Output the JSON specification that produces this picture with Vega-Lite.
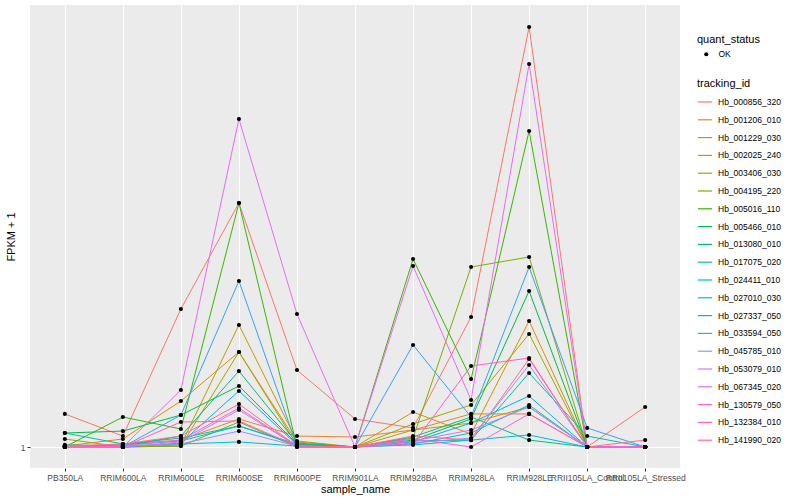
{
"$schema":"https://vega.github.io/schema/vega-lite/v6.json",
"width":650,"height":463,
"autosize":{"type":"none"},
"padding":{"left":30,"top":5,"right":120,"bottom":32},
"background":"white",
"config":{
 "view":{"fill":"#EBEBEB","stroke":null},
 "font":"Liberation Sans",
 "axis":{"gridColor":"white","gridWidth":1.1,"domain":false,"tickColor":"#333333","tickSize":3,"labelColor":"#4D4D4D","labelFontSize":8.5,"titleFontSize":11,"titleColor":"black","titleFontWeight":"normal","labelPadding":2},
 "legend":{"titleFontSize":11,"titleFontWeight":"normal","titleColor":"black","labelFontSize":8.5,"labelColor":"black"}
},
"datasets":{"d":[
{"tracking_id":"Hb_000856_320","sample_name":"PB350LA","fpkm":1.189,"quant_status":"OK"},
{"tracking_id":"Hb_000856_320","sample_name":"RRIM600LA","fpkm":1.059,"quant_status":"OK"},
{"tracking_id":"Hb_000856_320","sample_name":"RRIM600LE","fpkm":2.059,"quant_status":"OK"},
{"tracking_id":"Hb_000856_320","sample_name":"RRIM600SE","fpkm":3.585,"quant_status":"OK"},
{"tracking_id":"Hb_000856_320","sample_name":"RRIM600PE","fpkm":1.496,"quant_status":"OK"},
{"tracking_id":"Hb_000856_320","sample_name":"RRIM901LA","fpkm":1.158,"quant_status":"OK"},
{"tracking_id":"Hb_000856_320","sample_name":"RRIM928BA","fpkm":1.105,"quant_status":"OK"},
{"tracking_id":"Hb_000856_320","sample_name":"RRIM928LA","fpkm":1.975,"quant_status":"OK"},
{"tracking_id":"Hb_000856_320","sample_name":"RRIM928LE","fpkm":9.004,"quant_status":"OK"},
{"tracking_id":"Hb_000856_320","sample_name":"RRII105LA_Control","fpkm":1.0,"quant_status":"OK"},
{"tracking_id":"Hb_000856_320","sample_name":"RRII105LA_Stressed","fpkm":1.233,"quant_status":"OK"},
{"tracking_id":"Hb_001206_010","sample_name":"PB350LA","fpkm":1.0,"quant_status":"OK"},
{"tracking_id":"Hb_001206_010","sample_name":"RRIM600LA","fpkm":1.016,"quant_status":"OK"},
{"tracking_id":"Hb_001206_010","sample_name":"RRIM600LE","fpkm":1.037,"quant_status":"OK"},
{"tracking_id":"Hb_001206_010","sample_name":"RRIM600SE","fpkm":1.158,"quant_status":"OK"},
{"tracking_id":"Hb_001206_010","sample_name":"RRIM600PE","fpkm":1.059,"quant_status":"OK"},
{"tracking_id":"Hb_001206_010","sample_name":"RRIM901LA","fpkm":1.054,"quant_status":"OK"},
{"tracking_id":"Hb_001206_010","sample_name":"RRIM928BA","fpkm":1.093,"quant_status":"OK"},
{"tracking_id":"Hb_001206_010","sample_name":"RRIM928LA","fpkm":1.189,"quant_status":"OK"},
{"tracking_id":"Hb_001206_010","sample_name":"RRIM928LE","fpkm":1.189,"quant_status":"OK"},
{"tracking_id":"Hb_001206_010","sample_name":"RRII105LA_Control","fpkm":1.0,"quant_status":"OK"},
{"tracking_id":"Hb_001206_010","sample_name":"RRII105LA_Stressed","fpkm":1.0,"quant_status":"OK"},
{"tracking_id":"Hb_001229_030","sample_name":"PB350LA","fpkm":1.005,"quant_status":"OK"},
{"tracking_id":"Hb_001229_030","sample_name":"RRIM600LA","fpkm":1.043,"quant_status":"OK"},
{"tracking_id":"Hb_001229_030","sample_name":"RRIM600LE","fpkm":1.272,"quant_status":"OK"},
{"tracking_id":"Hb_001229_030","sample_name":"RRIM600SE","fpkm":1.644,"quant_status":"OK"},
{"tracking_id":"Hb_001229_030","sample_name":"RRIM600PE","fpkm":1.027,"quant_status":"OK"},
{"tracking_id":"Hb_001229_030","sample_name":"RRIM901LA","fpkm":1.0,"quant_status":"OK"},
{"tracking_id":"Hb_001229_030","sample_name":"RRIM928BA","fpkm":1.201,"quant_status":"OK"},
{"tracking_id":"Hb_001229_030","sample_name":"RRIM928LA","fpkm":1.070,"quant_status":"OK"},
{"tracking_id":"Hb_001229_030","sample_name":"RRIM928LE","fpkm":1.934,"quant_status":"OK"},
{"tracking_id":"Hb_001229_030","sample_name":"RRII105LA_Control","fpkm":1.0,"quant_status":"OK"},
{"tracking_id":"Hb_001229_030","sample_name":"RRII105LA_Stressed","fpkm":1.0,"quant_status":"OK"},
{"tracking_id":"Hb_002025_240","sample_name":"PB350LA","fpkm":1.0,"quant_status":"OK"},
{"tracking_id":"Hb_002025_240","sample_name":"RRIM600LA","fpkm":1.0,"quant_status":"OK"},
{"tracking_id":"Hb_002025_240","sample_name":"RRIM600LE","fpkm":1.011,"quant_status":"OK"},
{"tracking_id":"Hb_002025_240","sample_name":"RRIM600SE","fpkm":1.894,"quant_status":"OK"},
{"tracking_id":"Hb_002025_240","sample_name":"RRIM600PE","fpkm":1.032,"quant_status":"OK"},
{"tracking_id":"Hb_002025_240","sample_name":"RRIM901LA","fpkm":1.0,"quant_status":"OK"},
{"tracking_id":"Hb_002025_240","sample_name":"RRIM928BA","fpkm":1.093,"quant_status":"OK"},
{"tracking_id":"Hb_002025_240","sample_name":"RRIM928LA","fpkm":1.134,"quant_status":"OK"},
{"tracking_id":"Hb_002025_240","sample_name":"RRIM928LE","fpkm":1.233,"quant_status":"OK"},
{"tracking_id":"Hb_002025_240","sample_name":"RRII105LA_Control","fpkm":1.0,"quant_status":"OK"},
{"tracking_id":"Hb_002025_240","sample_name":"RRII105LA_Stressed","fpkm":1.0,"quant_status":"OK"},
{"tracking_id":"Hb_003406_030","sample_name":"PB350LA","fpkm":1.043,"quant_status":"OK"},
{"tracking_id":"Hb_003406_030","sample_name":"RRIM600LA","fpkm":1.0,"quant_status":"OK"},
{"tracking_id":"Hb_003406_030","sample_name":"RRIM600LE","fpkm":1.005,"quant_status":"OK"},
{"tracking_id":"Hb_003406_030","sample_name":"RRIM600SE","fpkm":1.644,"quant_status":"OK"},
{"tracking_id":"Hb_003406_030","sample_name":"RRIM600PE","fpkm":1.011,"quant_status":"OK"},
{"tracking_id":"Hb_003406_030","sample_name":"RRIM901LA","fpkm":1.0,"quant_status":"OK"},
{"tracking_id":"Hb_003406_030","sample_name":"RRIM928BA","fpkm":1.128,"quant_status":"OK"},
{"tracking_id":"Hb_003406_030","sample_name":"RRIM928LA","fpkm":1.246,"quant_status":"OK"},
{"tracking_id":"Hb_003406_030","sample_name":"RRIM928LE","fpkm":1.807,"quant_status":"OK"},
{"tracking_id":"Hb_003406_030","sample_name":"RRII105LA_Control","fpkm":1.0,"quant_status":"OK"},
{"tracking_id":"Hb_003406_030","sample_name":"RRII105LA_Stressed","fpkm":1.0,"quant_status":"OK"},
{"tracking_id":"Hb_004195_220","sample_name":"PB350LA","fpkm":1.0,"quant_status":"OK"},
{"tracking_id":"Hb_004195_220","sample_name":"RRIM600LA","fpkm":1.0,"quant_status":"OK"},
{"tracking_id":"Hb_004195_220","sample_name":"RRIM600LE","fpkm":1.005,"quant_status":"OK"},
{"tracking_id":"Hb_004195_220","sample_name":"RRIM600SE","fpkm":1.140,"quant_status":"OK"},
{"tracking_id":"Hb_004195_220","sample_name":"RRIM600PE","fpkm":1.0,"quant_status":"OK"},
{"tracking_id":"Hb_004195_220","sample_name":"RRIM901LA","fpkm":1.0,"quant_status":"OK"},
{"tracking_id":"Hb_004195_220","sample_name":"RRIM928BA","fpkm":1.048,"quant_status":"OK"},
{"tracking_id":"Hb_004195_220","sample_name":"RRIM928LA","fpkm":2.565,"quant_status":"OK"},
{"tracking_id":"Hb_004195_220","sample_name":"RRIM928LE","fpkm":2.703,"quant_status":"OK"},
{"tracking_id":"Hb_004195_220","sample_name":"RRII105LA_Control","fpkm":1.0,"quant_status":"OK"},
{"tracking_id":"Hb_004195_220","sample_name":"RRII105LA_Stressed","fpkm":1.0,"quant_status":"OK"},
{"tracking_id":"Hb_005016_110","sample_name":"PB350LA","fpkm":1.0,"quant_status":"OK"},
{"tracking_id":"Hb_005016_110","sample_name":"RRIM600LA","fpkm":1.170,"quant_status":"OK"},
{"tracking_id":"Hb_005016_110","sample_name":"RRIM600LE","fpkm":1.099,"quant_status":"OK"},
{"tracking_id":"Hb_005016_110","sample_name":"RRIM600SE","fpkm":3.585,"quant_status":"OK"},
{"tracking_id":"Hb_005016_110","sample_name":"RRIM600PE","fpkm":1.0,"quant_status":"OK"},
{"tracking_id":"Hb_005016_110","sample_name":"RRIM901LA","fpkm":1.0,"quant_status":"OK"},
{"tracking_id":"Hb_005016_110","sample_name":"RRIM928BA","fpkm":2.675,"quant_status":"OK"},
{"tracking_id":"Hb_005016_110","sample_name":"RRIM928LA","fpkm":1.427,"quant_status":"OK"},
{"tracking_id":"Hb_005016_110","sample_name":"RRIM928LE","fpkm":5.227,"quant_status":"OK"},
{"tracking_id":"Hb_005016_110","sample_name":"RRII105LA_Control","fpkm":1.0,"quant_status":"OK"},
{"tracking_id":"Hb_005016_110","sample_name":"RRII105LA_Stressed","fpkm":1.0,"quant_status":"OK"},
{"tracking_id":"Hb_005466_010","sample_name":"PB350LA","fpkm":1.076,"quant_status":"OK"},
{"tracking_id":"Hb_005466_010","sample_name":"RRIM600LA","fpkm":1.087,"quant_status":"OK"},
{"tracking_id":"Hb_005466_010","sample_name":"RRIM600LE","fpkm":1.182,"quant_status":"OK"},
{"tracking_id":"Hb_005466_010","sample_name":"RRIM600SE","fpkm":1.376,"quant_status":"OK"},
{"tracking_id":"Hb_005466_010","sample_name":"RRIM600PE","fpkm":1.016,"quant_status":"OK"},
{"tracking_id":"Hb_005466_010","sample_name":"RRIM901LA","fpkm":1.0,"quant_status":"OK"},
{"tracking_id":"Hb_005466_010","sample_name":"RRIM928BA","fpkm":1.037,"quant_status":"OK"},
{"tracking_id":"Hb_005466_010","sample_name":"RRIM928LA","fpkm":1.158,"quant_status":"OK"},
{"tracking_id":"Hb_005466_010","sample_name":"RRIM928LE","fpkm":2.262,"quant_status":"OK"},
{"tracking_id":"Hb_005466_010","sample_name":"RRII105LA_Control","fpkm":1.0,"quant_status":"OK"},
{"tracking_id":"Hb_005466_010","sample_name":"RRII105LA_Stressed","fpkm":1.0,"quant_status":"OK"},
{"tracking_id":"Hb_013080_010","sample_name":"PB350LA","fpkm":1.011,"quant_status":"OK"},
{"tracking_id":"Hb_013080_010","sample_name":"RRIM600LA","fpkm":1.005,"quant_status":"OK"},
{"tracking_id":"Hb_013080_010","sample_name":"RRIM600LE","fpkm":1.059,"quant_status":"OK"},
{"tracking_id":"Hb_013080_010","sample_name":"RRIM600SE","fpkm":1.488,"quant_status":"OK"},
{"tracking_id":"Hb_013080_010","sample_name":"RRIM600PE","fpkm":1.021,"quant_status":"OK"},
{"tracking_id":"Hb_013080_010","sample_name":"RRIM901LA","fpkm":1.0,"quant_status":"OK"},
{"tracking_id":"Hb_013080_010","sample_name":"RRIM928BA","fpkm":1.054,"quant_status":"OK"},
{"tracking_id":"Hb_013080_010","sample_name":"RRIM928LA","fpkm":1.170,"quant_status":"OK"},
{"tracking_id":"Hb_013080_010","sample_name":"RRIM928LE","fpkm":1.037,"quant_status":"OK"},
{"tracking_id":"Hb_013080_010","sample_name":"RRII105LA_Control","fpkm":1.0,"quant_status":"OK"},
{"tracking_id":"Hb_013080_010","sample_name":"RRII105LA_Stressed","fpkm":1.0,"quant_status":"OK"},
{"tracking_id":"Hb_017075_020","sample_name":"PB350LA","fpkm":1.076,"quant_status":"OK"},
{"tracking_id":"Hb_017075_020","sample_name":"RRIM600LA","fpkm":1.016,"quant_status":"OK"},
{"tracking_id":"Hb_017075_020","sample_name":"RRIM600LE","fpkm":1.048,"quant_status":"OK"},
{"tracking_id":"Hb_017075_020","sample_name":"RRIM600SE","fpkm":1.116,"quant_status":"OK"},
{"tracking_id":"Hb_017075_020","sample_name":"RRIM600PE","fpkm":1.016,"quant_status":"OK"},
{"tracking_id":"Hb_017075_020","sample_name":"RRIM901LA","fpkm":1.0,"quant_status":"OK"},
{"tracking_id":"Hb_017075_020","sample_name":"RRIM928BA","fpkm":1.032,"quant_status":"OK"},
{"tracking_id":"Hb_017075_020","sample_name":"RRIM928LA","fpkm":1.037,"quant_status":"OK"},
{"tracking_id":"Hb_017075_020","sample_name":"RRIM928LE","fpkm":1.473,"quant_status":"OK"},
{"tracking_id":"Hb_017075_020","sample_name":"RRII105LA_Control","fpkm":1.059,"quant_status":"OK"},
{"tracking_id":"Hb_017075_020","sample_name":"RRII105LA_Stressed","fpkm":1.0,"quant_status":"OK"},
{"tracking_id":"Hb_024411_010","sample_name":"PB350LA","fpkm":1.005,"quant_status":"OK"},
{"tracking_id":"Hb_024411_010","sample_name":"RRIM600LA","fpkm":1.011,"quant_status":"OK"},
{"tracking_id":"Hb_024411_010","sample_name":"RRIM600LE","fpkm":1.032,"quant_status":"OK"},
{"tracking_id":"Hb_024411_010","sample_name":"RRIM600SE","fpkm":1.116,"quant_status":"OK"},
{"tracking_id":"Hb_024411_010","sample_name":"RRIM600PE","fpkm":1.011,"quant_status":"OK"},
{"tracking_id":"Hb_024411_010","sample_name":"RRIM901LA","fpkm":1.0,"quant_status":"OK"},
{"tracking_id":"Hb_024411_010","sample_name":"RRIM928BA","fpkm":1.016,"quant_status":"OK"},
{"tracking_id":"Hb_024411_010","sample_name":"RRIM928LA","fpkm":1.076,"quant_status":"OK"},
{"tracking_id":"Hb_024411_010","sample_name":"RRIM928LE","fpkm":1.246,"quant_status":"OK"},
{"tracking_id":"Hb_024411_010","sample_name":"RRII105LA_Control","fpkm":1.0,"quant_status":"OK"},
{"tracking_id":"Hb_024411_010","sample_name":"RRII105LA_Stressed","fpkm":1.0,"quant_status":"OK"},
{"tracking_id":"Hb_027010_030","sample_name":"PB350LA","fpkm":1.0,"quant_status":"OK"},
{"tracking_id":"Hb_027010_030","sample_name":"RRIM600LA","fpkm":1.005,"quant_status":"OK"},
{"tracking_id":"Hb_027010_030","sample_name":"RRIM600LE","fpkm":1.016,"quant_status":"OK"},
{"tracking_id":"Hb_027010_030","sample_name":"RRIM600SE","fpkm":1.027,"quant_status":"OK"},
{"tracking_id":"Hb_027010_030","sample_name":"RRIM600PE","fpkm":1.005,"quant_status":"OK"},
{"tracking_id":"Hb_027010_030","sample_name":"RRIM901LA","fpkm":1.0,"quant_status":"OK"},
{"tracking_id":"Hb_027010_030","sample_name":"RRIM928BA","fpkm":1.011,"quant_status":"OK"},
{"tracking_id":"Hb_027010_030","sample_name":"RRIM928LA","fpkm":1.037,"quant_status":"OK"},
{"tracking_id":"Hb_027010_030","sample_name":"RRIM928LE","fpkm":1.065,"quant_status":"OK"},
{"tracking_id":"Hb_027010_030","sample_name":"RRII105LA_Control","fpkm":1.0,"quant_status":"OK"},
{"tracking_id":"Hb_027010_030","sample_name":"RRII105LA_Stressed","fpkm":1.0,"quant_status":"OK"},
{"tracking_id":"Hb_027337_050","sample_name":"PB350LA","fpkm":1.005,"quant_status":"OK"},
{"tracking_id":"Hb_027337_050","sample_name":"RRIM600LA","fpkm":1.0,"quant_status":"OK"},
{"tracking_id":"Hb_027337_050","sample_name":"RRIM600LE","fpkm":1.021,"quant_status":"OK"},
{"tracking_id":"Hb_027337_050","sample_name":"RRIM600SE","fpkm":1.341,"quant_status":"OK"},
{"tracking_id":"Hb_027337_050","sample_name":"RRIM600PE","fpkm":1.011,"quant_status":"OK"},
{"tracking_id":"Hb_027337_050","sample_name":"RRIM901LA","fpkm":1.0,"quant_status":"OK"},
{"tracking_id":"Hb_027337_050","sample_name":"RRIM928BA","fpkm":1.027,"quant_status":"OK"},
{"tracking_id":"Hb_027337_050","sample_name":"RRIM928LA","fpkm":1.134,"quant_status":"OK"},
{"tracking_id":"Hb_027337_050","sample_name":"RRIM928LE","fpkm":1.306,"quant_status":"OK"},
{"tracking_id":"Hb_027337_050","sample_name":"RRII105LA_Control","fpkm":1.0,"quant_status":"OK"},
{"tracking_id":"Hb_027337_050","sample_name":"RRII105LA_Stressed","fpkm":1.0,"quant_status":"OK"},
{"tracking_id":"Hb_033594_050","sample_name":"PB350LA","fpkm":1.005,"quant_status":"OK"},
{"tracking_id":"Hb_033594_050","sample_name":"RRIM600LA","fpkm":1.0,"quant_status":"OK"},
{"tracking_id":"Hb_033594_050","sample_name":"RRIM600LE","fpkm":1.182,"quant_status":"OK"},
{"tracking_id":"Hb_033594_050","sample_name":"RRIM600SE","fpkm":2.384,"quant_status":"OK"},
{"tracking_id":"Hb_033594_050","sample_name":"RRIM600PE","fpkm":1.005,"quant_status":"OK"},
{"tracking_id":"Hb_033594_050","sample_name":"RRIM901LA","fpkm":1.0,"quant_status":"OK"},
{"tracking_id":"Hb_033594_050","sample_name":"RRIM928BA","fpkm":1.706,"quant_status":"OK"},
{"tracking_id":"Hb_033594_050","sample_name":"RRIM928LA","fpkm":1.170,"quant_status":"OK"},
{"tracking_id":"Hb_033594_050","sample_name":"RRIM928LE","fpkm":2.565,"quant_status":"OK"},
{"tracking_id":"Hb_033594_050","sample_name":"RRII105LA_Control","fpkm":1.105,"quant_status":"OK"},
{"tracking_id":"Hb_033594_050","sample_name":"RRII105LA_Stressed","fpkm":1.0,"quant_status":"OK"},
{"tracking_id":"Hb_045785_010","sample_name":"PB350LA","fpkm":1.0,"quant_status":"OK"},
{"tracking_id":"Hb_045785_010","sample_name":"RRIM600LA","fpkm":1.005,"quant_status":"OK"},
{"tracking_id":"Hb_045785_010","sample_name":"RRIM600LE","fpkm":1.016,"quant_status":"OK"},
{"tracking_id":"Hb_045785_010","sample_name":"RRIM600SE","fpkm":1.087,"quant_status":"OK"},
{"tracking_id":"Hb_045785_010","sample_name":"RRIM600PE","fpkm":1.005,"quant_status":"OK"},
{"tracking_id":"Hb_045785_010","sample_name":"RRIM901LA","fpkm":1.0,"quant_status":"OK"},
{"tracking_id":"Hb_045785_010","sample_name":"RRIM928BA","fpkm":1.021,"quant_status":"OK"},
{"tracking_id":"Hb_045785_010","sample_name":"RRIM928LA","fpkm":1.048,"quant_status":"OK"},
{"tracking_id":"Hb_045785_010","sample_name":"RRIM928LE","fpkm":1.536,"quant_status":"OK"},
{"tracking_id":"Hb_045785_010","sample_name":"RRII105LA_Control","fpkm":1.0,"quant_status":"OK"},
{"tracking_id":"Hb_045785_010","sample_name":"RRII105LA_Stressed","fpkm":1.0,"quant_status":"OK"},
{"tracking_id":"Hb_053079_010","sample_name":"PB350LA","fpkm":1.0,"quant_status":"OK"},
{"tracking_id":"Hb_053079_010","sample_name":"RRIM600LA","fpkm":1.0,"quant_status":"OK"},
{"tracking_id":"Hb_053079_010","sample_name":"RRIM600LE","fpkm":1.027,"quant_status":"OK"},
{"tracking_id":"Hb_053079_010","sample_name":"RRIM600SE","fpkm":1.214,"quant_status":"OK"},
{"tracking_id":"Hb_053079_010","sample_name":"RRIM600PE","fpkm":1.005,"quant_status":"OK"},
{"tracking_id":"Hb_053079_010","sample_name":"RRIM901LA","fpkm":1.0,"quant_status":"OK"},
{"tracking_id":"Hb_053079_010","sample_name":"RRIM928BA","fpkm":1.032,"quant_status":"OK"},
{"tracking_id":"Hb_053079_010","sample_name":"RRIM928LA","fpkm":1.093,"quant_status":"OK"},
{"tracking_id":"Hb_053079_010","sample_name":"RRIM928LE","fpkm":1.233,"quant_status":"OK"},
{"tracking_id":"Hb_053079_010","sample_name":"RRII105LA_Control","fpkm":1.0,"quant_status":"OK"},
{"tracking_id":"Hb_053079_010","sample_name":"RRII105LA_Stressed","fpkm":1.0,"quant_status":"OK"},
{"tracking_id":"Hb_067345_020","sample_name":"PB350LA","fpkm":1.0,"quant_status":"OK"},
{"tracking_id":"Hb_067345_020","sample_name":"RRIM600LA","fpkm":1.0,"quant_status":"OK"},
{"tracking_id":"Hb_067345_020","sample_name":"RRIM600LE","fpkm":1.348,"quant_status":"OK"},
{"tracking_id":"Hb_067345_020","sample_name":"RRIM600SE","fpkm":5.565,"quant_status":"OK"},
{"tracking_id":"Hb_067345_020","sample_name":"RRIM600PE","fpkm":2.006,"quant_status":"OK"},
{"tracking_id":"Hb_067345_020","sample_name":"RRIM901LA","fpkm":1.0,"quant_status":"OK"},
{"tracking_id":"Hb_067345_020","sample_name":"RRIM928BA","fpkm":2.579,"quant_status":"OK"},
{"tracking_id":"Hb_067345_020","sample_name":"RRIM928LA","fpkm":1.279,"quant_status":"OK"},
{"tracking_id":"Hb_067345_020","sample_name":"RRIM928LE","fpkm":7.419,"quant_status":"OK"},
{"tracking_id":"Hb_067345_020","sample_name":"RRII105LA_Control","fpkm":1.0,"quant_status":"OK"},
{"tracking_id":"Hb_067345_020","sample_name":"RRII105LA_Stressed","fpkm":1.0,"quant_status":"OK"},
{"tracking_id":"Hb_130579_050","sample_name":"PB350LA","fpkm":1.0,"quant_status":"OK"},
{"tracking_id":"Hb_130579_050","sample_name":"RRIM600LA","fpkm":1.005,"quant_status":"OK"},
{"tracking_id":"Hb_130579_050","sample_name":"RRIM600LE","fpkm":1.037,"quant_status":"OK"},
{"tracking_id":"Hb_130579_050","sample_name":"RRIM600SE","fpkm":1.226,"quant_status":"OK"},
{"tracking_id":"Hb_130579_050","sample_name":"RRIM600PE","fpkm":1.005,"quant_status":"OK"},
{"tracking_id":"Hb_130579_050","sample_name":"RRIM901LA","fpkm":1.0,"quant_status":"OK"},
{"tracking_id":"Hb_130579_050","sample_name":"RRIM928BA","fpkm":1.043,"quant_status":"OK"},
{"tracking_id":"Hb_130579_050","sample_name":"RRIM928LA","fpkm":1.0,"quant_status":"OK"},
{"tracking_id":"Hb_130579_050","sample_name":"RRIM928LE","fpkm":1.189,"quant_status":"OK"},
{"tracking_id":"Hb_130579_050","sample_name":"RRII105LA_Control","fpkm":1.0,"quant_status":"OK"},
{"tracking_id":"Hb_130579_050","sample_name":"RRII105LA_Stressed","fpkm":1.0,"quant_status":"OK"},
{"tracking_id":"Hb_132384_010","sample_name":"PB350LA","fpkm":1.005,"quant_status":"OK"},
{"tracking_id":"Hb_132384_010","sample_name":"RRIM600LA","fpkm":1.0,"quant_status":"OK"},
{"tracking_id":"Hb_132384_010","sample_name":"RRIM600LE","fpkm":1.140,"quant_status":"OK"},
{"tracking_id":"Hb_132384_010","sample_name":"RRIM600SE","fpkm":1.146,"quant_status":"OK"},
{"tracking_id":"Hb_132384_010","sample_name":"RRIM600PE","fpkm":1.005,"quant_status":"OK"},
{"tracking_id":"Hb_132384_010","sample_name":"RRIM901LA","fpkm":1.0,"quant_status":"OK"},
{"tracking_id":"Hb_132384_010","sample_name":"RRIM928BA","fpkm":1.016,"quant_status":"OK"},
{"tracking_id":"Hb_132384_010","sample_name":"RRIM928LA","fpkm":1.528,"quant_status":"OK"},
{"tracking_id":"Hb_132384_010","sample_name":"RRIM928LE","fpkm":1.593,"quant_status":"OK"},
{"tracking_id":"Hb_132384_010","sample_name":"RRII105LA_Control","fpkm":1.0,"quant_status":"OK"},
{"tracking_id":"Hb_132384_010","sample_name":"RRII105LA_Stressed","fpkm":1.0,"quant_status":"OK"},
{"tracking_id":"Hb_141990_020","sample_name":"PB350LA","fpkm":1.005,"quant_status":"OK"},
{"tracking_id":"Hb_141990_020","sample_name":"RRIM600LA","fpkm":1.016,"quant_status":"OK"},
{"tracking_id":"Hb_141990_020","sample_name":"RRIM600LE","fpkm":1.059,"quant_status":"OK"},
{"tracking_id":"Hb_141990_020","sample_name":"RRIM600SE","fpkm":1.252,"quant_status":"OK"},
{"tracking_id":"Hb_141990_020","sample_name":"RRIM600PE","fpkm":1.005,"quant_status":"OK"},
{"tracking_id":"Hb_141990_020","sample_name":"RRIM901LA","fpkm":1.0,"quant_status":"OK"},
{"tracking_id":"Hb_141990_020","sample_name":"RRIM928BA","fpkm":1.059,"quant_status":"OK"},
{"tracking_id":"Hb_141990_020","sample_name":"RRIM928LA","fpkm":1.037,"quant_status":"OK"},
{"tracking_id":"Hb_141990_020","sample_name":"RRIM928LE","fpkm":1.585,"quant_status":"OK"},
{"tracking_id":"Hb_141990_020","sample_name":"RRII105LA_Control","fpkm":1.0,"quant_status":"OK"},
{"tracking_id":"Hb_141990_020","sample_name":"RRII105LA_Stressed","fpkm":1.037,"quant_status":"OK"}
]},
"data":{"name":"d"},
"encoding":{
 "x":{"field":"sample_name","type":"nominal","sort":["PB350LA","RRIM600LA","RRIM600LE","RRIM600SE","RRIM600PE","RRIM901LA","RRIM928BA","RRIM928LA","RRIM928LE","RRII105LA_Control","RRII105LA_Stressed"],"scale":{"type":"point","padding":0.6},"axis":{"labelAngle":0,"title":"sample_name","grid":true,"titlePadding":2}},
 "y":{"field":"fpkm","type":"quantitative","scale":{"type":"log","domain":[0.896,10.105],"nice":false,"zero":false},"axis":{"values":[1],"title":"FPKM + 1","grid":true,"titlePadding":4}}
},
"layer":[
 {"mark":{"type":"line","strokeWidth":1},
  "encoding":{"color":{"field":"tracking_id","type":"nominal",
   "scale":{"domain":["Hb_000856_320","Hb_001206_010","Hb_001229_030","Hb_002025_240","Hb_003406_030","Hb_004195_220","Hb_005016_110","Hb_005466_010","Hb_013080_010","Hb_017075_020","Hb_024411_010","Hb_027010_030","Hb_027337_050","Hb_033594_050","Hb_045785_010","Hb_053079_010","Hb_067345_020","Hb_130579_050","Hb_132384_010","Hb_141990_020"],
   "range":["#F8766D","#EA8331","#D89000","#C09B00","#A3A500","#7CAE00","#39B600","#00BB4E","#00BF7D","#00C1A3","#00BFC4","#00BAE0","#00B0F6","#35A2FF","#9590FF","#C77CFF","#E76BF3","#FA62DB","#FF62BC","#FF6C91"]},
   "legend":{"title":"tracking_id","orient":"none","legendX":667,"legendY":73,"symbolType":"stroke","symbolSize":200,"symbolStrokeWidth":1.2,"rowPadding":4.8,"labelOffset":5}}}},
 {"mark":{"type":"point","filled":true,"color":"black","size":17,"opacity":1},
  "encoding":{"shape":{"field":"quant_status","type":"nominal","scale":{"range":["circle"]},
   "legend":{"title":"quant_status","orient":"none","legendX":667,"legendY":29,"symbolSize":17,"symbolFillColor":"black","symbolStrokeColor":"black","labelOffset":8,"symbolOffset":5}}}}
]
}
